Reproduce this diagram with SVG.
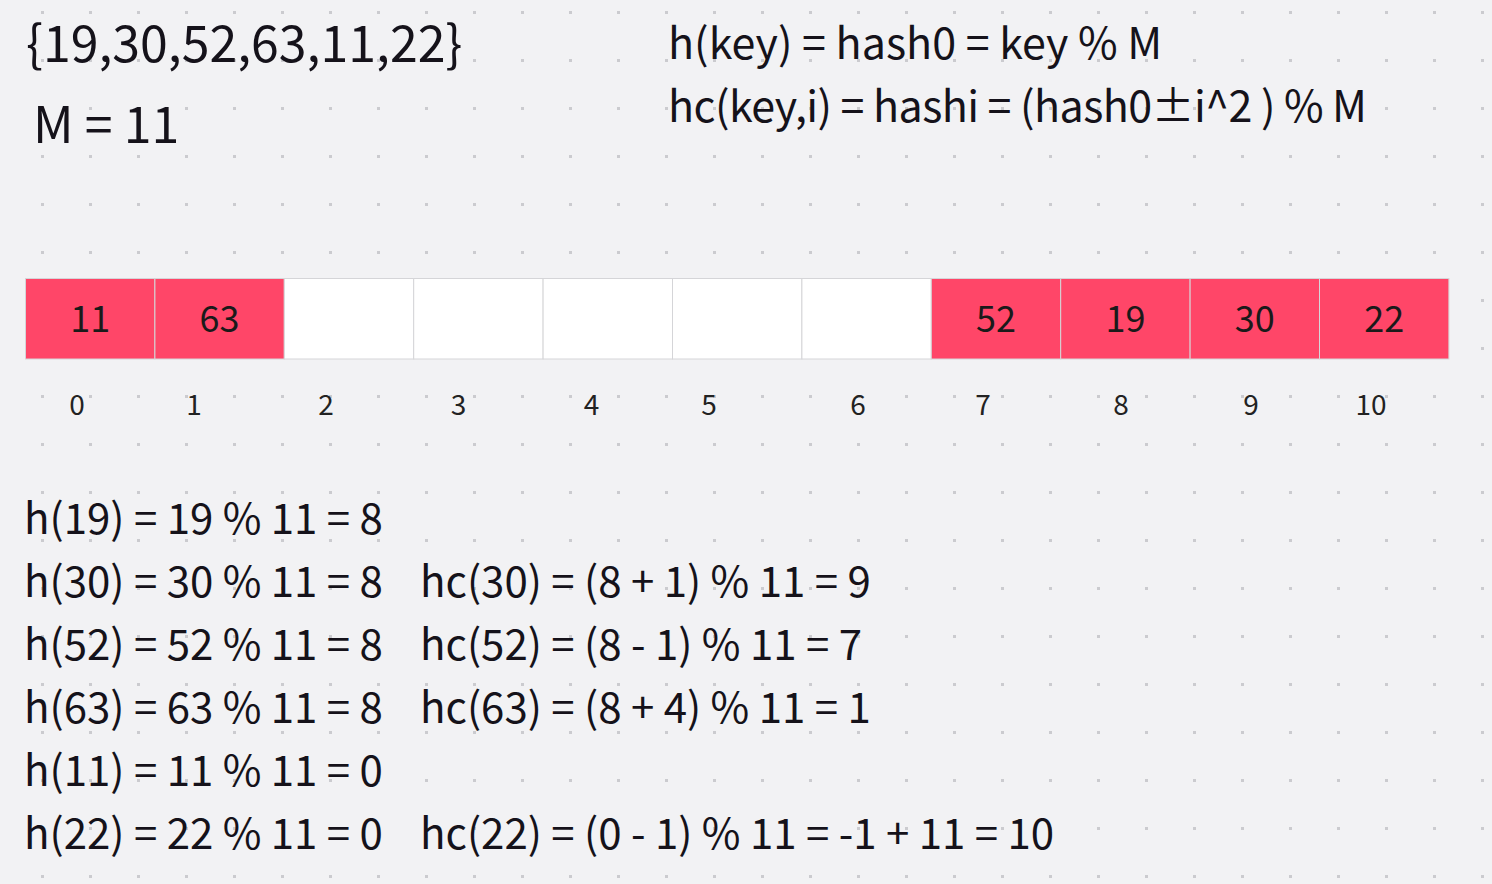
<svg xmlns="http://www.w3.org/2000/svg" width="1492" height="884" viewBox="0 0 1492 884">
  <defs>
    <pattern id="dots" x="0" y="0" width="48" height="48" patternUnits="userSpaceOnUse">
      <rect x="41" y="11" width="3" height="3" fill="#cbcbcf"/>
    </pattern>
    <style>
      .t { font-family: "Noto Sans CJK SC", "Noto Sans", "Liberation Sans", sans-serif; fill: #15121a; }
      .big { font-size: 50px; }
      .fx { font-size: 43px; }
      .ln { font-size: 42px; }
      .cell { stroke: #d5d5d8; stroke-width: 1; }
      .full { fill: #ff4668; }
      .empty { fill: #ffffff; }
      .val { font-size: 36px; text-anchor: middle; fill: #1a1a1a; }
      .idx { font-size: 28px; text-anchor: middle; fill: #222222; }
    </style>
  </defs>
  <rect x="0" y="0" width="1492" height="884" fill="#f2f2f4"/>
  <rect x="0" y="0" width="1492" height="884" fill="url(#dots)"/>

  <g id="header">
    <text class="t big" x="26" y="62">{19,30,52,63,11,22}</text>
    <text class="t big" x="33" y="143">M = 11</text>
    <text class="t fx" x="668" y="59">h(key) = hash0 = key % M</text>
    <text class="t fx" x="668" y="122" textLength="699" lengthAdjust="spacing">hc(key,i) = hashi = (hash0±i^2 ) % M</text>
  </g>

  <g id="table">
    <g id="cell0"><rect class="cell full" x="25.5" y="278.5" width="129.4" height="80.5"/><text class="t val" x="90.2" y="332">11</text></g>
    <g id="cell1"><rect class="cell full" x="154.9" y="278.5" width="129.4" height="80.5"/><text class="t val" x="219.6" y="332">63</text></g>
    <g id="cell2"><rect class="cell empty" x="284.3" y="278.5" width="129.4" height="80.5"/></g>
    <g id="cell3"><rect class="cell empty" x="413.7" y="278.5" width="129.4" height="80.5"/></g>
    <g id="cell4"><rect class="cell empty" x="543.1" y="278.5" width="129.4" height="80.5"/></g>
    <g id="cell5"><rect class="cell empty" x="672.5" y="278.5" width="129.4" height="80.5"/></g>
    <g id="cell6"><rect class="cell empty" x="801.9" y="278.5" width="129.4" height="80.5"/></g>
    <g id="cell7"><rect class="cell full" x="931.3" y="278.5" width="129.4" height="80.5"/><text class="t val" x="996" y="332">52</text></g>
    <g id="cell8"><rect class="cell full" x="1060.7" y="278.5" width="129.4" height="80.5"/><text class="t val" x="1125.4" y="332">19</text></g>
    <g id="cell9"><rect class="cell full" x="1190.1" y="278.5" width="129.4" height="80.5"/><text class="t val" x="1254.8" y="332">30</text></g>
    <g id="cell10"><rect class="cell full" x="1319.5" y="278.5" width="129.4" height="80.5"/><text class="t val" x="1384.2" y="332">22</text></g>
  </g>

  <g id="indices">
    <text class="t idx" x="77" y="415">0</text>
    <text class="t idx" x="194" y="415">1</text>
    <text class="t idx" x="326" y="415">2</text>
    <text class="t idx" x="458.5" y="415">3</text>
    <text class="t idx" x="591.5" y="415">4</text>
    <text class="t idx" x="709" y="415">5</text>
    <text class="t idx" x="858" y="415">6</text>
    <text class="t idx" x="983" y="415">7</text>
    <text class="t idx" x="1121" y="415">8</text>
    <text class="t idx" x="1251" y="415">9</text>
    <text class="t idx" x="1371" y="415">10</text>
  </g>

  <g id="calc">
    <text class="t ln" x="24" y="533.5">h(19) = 19 % 11 = 8</text>
    <text class="t ln" x="24" y="596.5">h(30) = 30 % 11 = 8</text>
    <text class="t ln" x="24" y="659.5">h(52) = 52 % 11 = 8</text>
    <text class="t ln" x="24" y="722.5">h(63) = 63 % 11 = 8</text>
    <text class="t ln" x="24" y="785.5">h(11) = 11 % 11 = 0</text>
    <text class="t ln" x="24" y="848.5">h(22) = 22 % 11 = 0</text>
    <text class="t ln" x="420" y="596.5">hc(30) = (8 + 1) % 11 = 9</text>
    <text class="t ln" x="420" y="659.5">hc(52) = (8 - 1) % 11 = 7</text>
    <text class="t ln" x="420" y="722.5">hc(63) = (8 + 4) % 11 = 1</text>
    <text class="t ln" x="420" y="848.5">hc(22) = (0 - 1) % 11 = -1 + 11 = 10</text>
  </g>
</svg>
